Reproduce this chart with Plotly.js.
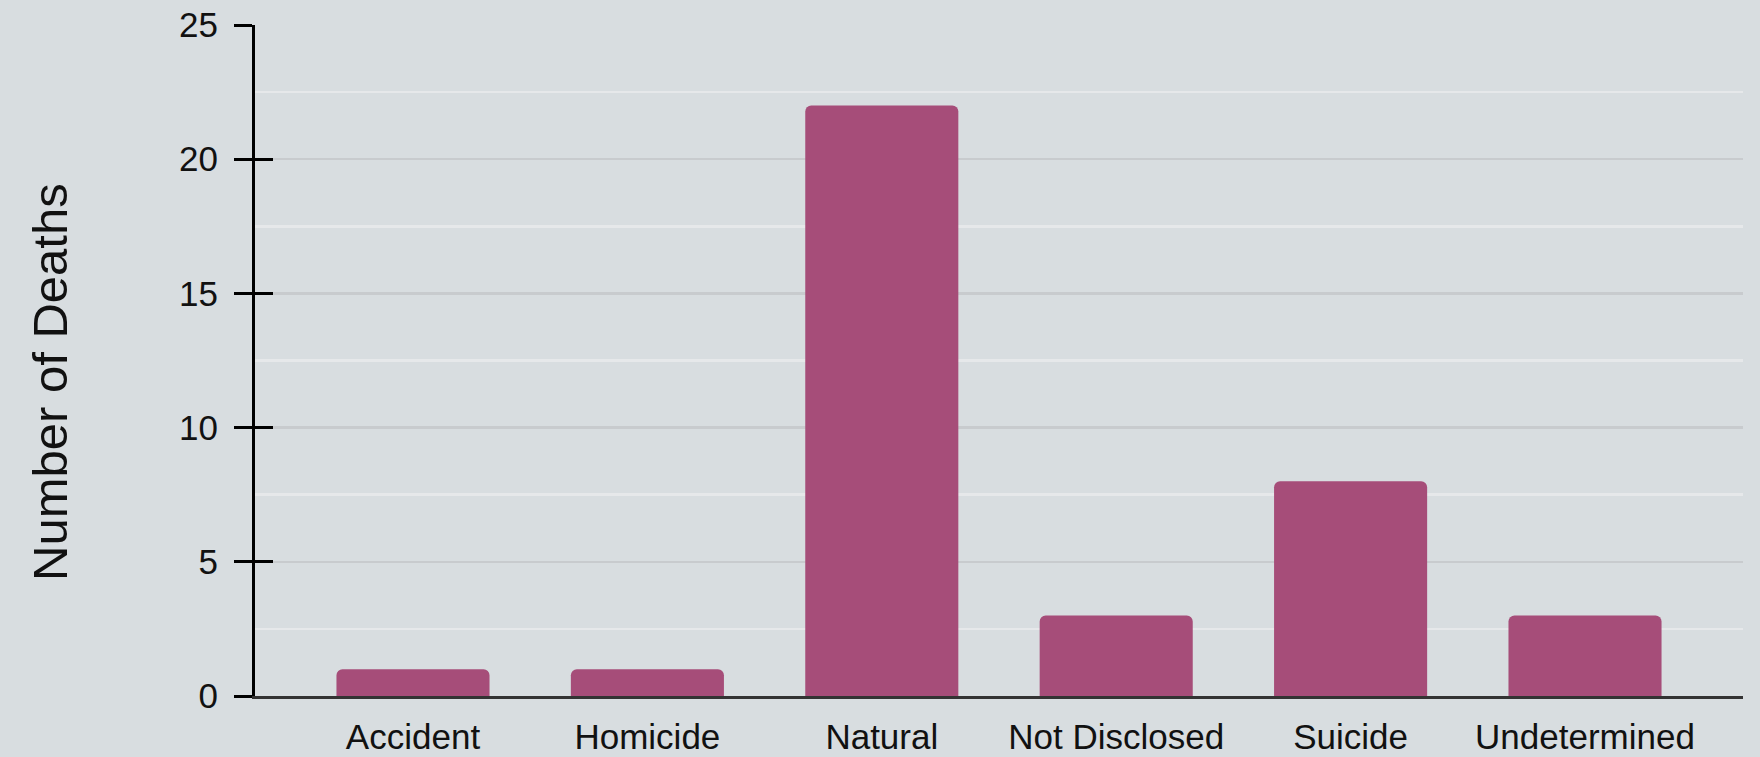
<!DOCTYPE html>
<html>
<head>
<meta charset="utf-8">
<script src="https://cdn.plot.ly/plotly-3.0.1.min.js"></script>
<style>
html,body{margin:0;padding:0;background:#d8dde0;}
#chart{width:1760px;height:757px;}
</style>
</head>
<body>
<div id="chart"></div>
<script>
const categories = ["Accident", "Homicide", "Natural", "Not Disclosed", "Suicide", "Undetermined"];
const deaths = [1, 1, 22, 3, 8, 3];
const yTickVals = [0, 5, 10, 15, 20, 25];
const yTitle = "Number of Deaths";

const FONT = "Liberation Sans, Arial, Helvetica, sans-serif";

const trace = {
  type: "bar",
  x: categories,
  y: deaths,
  marker: {color: "#a64d79", line: {width: 0}},
  hoverinfo: "x+y"
};

// invisible companion trace so the overlaid tick axis is drawn
const tickTrace = {
  type: "scatter",
  x: categories,
  y: deaths,
  yaxis: "y2",
  mode: "none",
  hoverinfo: "skip",
  showlegend: false
};

const layout = {
  width: 1760,
  height: 757,
  margin: {l: 255, r: 17, t: 25, b: 61, pad: 0},
  paper_bgcolor: "#d8dde0",
  plot_bgcolor: "#d8dde0",
  showlegend: false,
  bargap: 0.347,
  barcornerradius: 6,
  font: {family: FONT, color: "#111111", size: 35},
  xaxis: {
    type: "category",
    range: [-0.674, 5.674],
    showline: true,
    linecolor: "#333333",
    linewidth: 3,
    ticks: "",
    showgrid: false,
    zeroline: false,
    tickfont: {family: FONT, size: 35, color: "#111111"},
    ticklabelstandoff: 8,
    fixedrange: true
  },
  yaxis: {
    range: [0, 25],
    tickvals: yTickVals,
    ticktext: yTickVals.map(String),
    showline: true,
    linecolor: "#000000",
    linewidth: 3,
    ticks: "outside",
    ticklen: 18,
    tickwidth: 3,
    tickcolor: "#000000",
    ticklabelstandoff: 9,
    showgrid: true,
    gridcolor: "#c8cbce",
    gridwidth: 2.5,
    zeroline: false,
    minor: {dtick: 2.5, tick0: 0, showgrid: true, gridcolor: "#e6e8ea", gridwidth: 2.5, ticks: ""},
    tickfont: {family: FONT, size: 35, color: "#111111"},
    fixedrange: true
  },
  yaxis2: {
    overlaying: "y",
    side: "left",
    range: [-0.002, 25.002],
    tickvals: yTickVals,
    showticklabels: false,
    showline: false,
    ticks: "inside",
    ticklen: 18,
    tickwidth: 3,
    tickcolor: "#000000",
    showgrid: false,
    zeroline: false,
    fixedrange: true
  },
  annotations: [{
    text: yTitle,
    xref: "paper", yref: "paper",
    x: -0.1378, y: 0.468,
    xanchor: "center", yanchor: "middle",
    textangle: -90,
    showarrow: false,
    font: {family: FONT, size: 49, color: "#111111"}
  }]
};

Plotly.newPlot("chart", [trace, tickTrace], layout, {displayModeBar: false, staticPlot: true});
</script>
</body>
</html>
